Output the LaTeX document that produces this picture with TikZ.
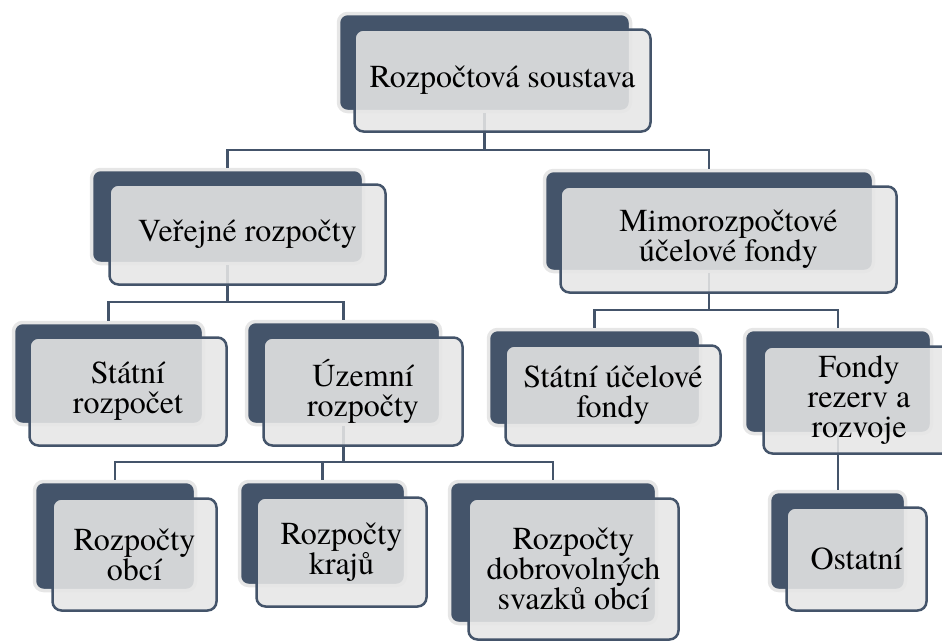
\documentclass[tikz,border=0pt]{standalone}
\usepackage{fontspec}
\setmainfont{texgyretermes}[Extension=.otf, UprightFont=*-regular,
  BoldFont=*-bold, ItalicFont=*-italic, BoldItalicFont=*-bolditalic]
\usepackage{tikz}
\usetikzlibrary{positioning}

\definecolor{slate}{RGB}{68,84,106}
\definecolor{paleedge}{RGB}{230,230,230}
\definecolor{palefill}{RGB}{230,230,230}

\tikzset{
  backbox/.style = {draw=paleedge, line width=3.5, fill=slate,
    rounded corners=9, inner sep=0},
  frontbox/.style = {draw=slate, line width=2.5, fill=palefill,
    fill opacity=0.88, text opacity=1, rounded corners=9, inner sep=0,
    align=center, font=\fontsize{32}{30}\selectfont},
  link/.style = {draw=slate, line width=2.5}
}

\begin{document}
\begin{tikzpicture}[x=1pt, y=-1pt]
  \useasboundingbox (0,0) rectangle (942,641);

  % back plates
  \node[backbox, minimum width=292, minimum height=98] (Ab) at (484.5, 62.5) {};
  \node[backbox, minimum width=272, minimum height=94] (Bb) at (227.5, 216.5) {};
  \node[backbox, minimum width=329, minimum height=101] (Cb) at (709, 221) {};
  \node[backbox, minimum width=190, minimum height=102] (Db) at (108.5, 373.5) {};
  \node[backbox, minimum width=194, minimum height=103] (Eb) at (343.5, 373) {};
  \node[backbox, minimum width=212, minimum height=96] (Ib) at (594.5, 377.5) {};
  \node[backbox, minimum width=187, minimum height=104] (Jb) at (838, 381.5) {};
  \node[backbox, minimum width=161, minimum height=109] (Fb) at (115, 536) {};
  \node[backbox, minimum width=166, minimum height=104] (Gb) at (322.5, 533.5) {};
  \node[backbox, minimum width=207, minimum height=142] (Hb) at (553, 552.5) {};
  \node[backbox, minimum width=136, minimum height=99] (Kb) at (837.5, 541) {};

  % junctions
  \coordinate (Aj) at (484.5, 150);
  \coordinate (Bj) at (227.5, 302);
  \coordinate (Cj) at (709, 310);
  \coordinate (Ej) at (343.5, 462);

  % connectors
  \draw[link] (Ab.south) -- (Aj) -| (Bb.north);
  \draw[link] (Aj) -| (Cb.north);
  \draw[link] (Bb.south) -- (Bj) -| (Db.north);
  \draw[link] (Bj) -| (Eb.north);
  \draw[link] (Cb.south) -- (Cj) -| (Ib.north);
  \draw[link] (Cj) -| (Jb.north);
  \draw[link] (Eb.south) -- (Ej) -| (Fb.north);
  \draw[link] (Ej) -| (Gb.north);
  \draw[link] (Ej) -| (Hb.north);
  \draw[link] (Jb.south) -- (Jb.south |- Kb.north);

  % front plates
  \node[frontbox, minimum width=296, minimum height=102] (A) at (502.5, 80.5)
    {Rozpočtová soustava};
  \node[frontbox, minimum width=276, minimum height=100] (B) at (247.5, 234.5)
    {Veřejné rozpočty};
  \node[frontbox, minimum width=336, minimum height=106] (C) at (728.5, 239.5)
    {Mimorozpočtové\\účelové fondy};
  \node[frontbox, minimum width=197, minimum height=108] (D) at (128, 391.5)
    {Státní\\rozpočet};
  \node[frontbox, minimum width=199, minimum height=108] (E) at (363, 391.5)
    {Územní\\rozpočty};
  \node[frontbox, minimum width=215, minimum height=100] (I) at (613, 395.5)
    {Státní účelové\\fondy};
  \node[frontbox, minimum width=191, minimum height=107] (J) at (859, 400)
    {Fondy\\rezerv a\\rozvoje};
  \node[frontbox, minimum width=164, minimum height=112] (F) at (134.5, 554.5)
    {Rozpočty\\obcí};
  \node[frontbox, minimum width=170, minimum height=109] (G) at (341.5, 552)
    {Rozpočty\\krajů};
  \node[frontbox, minimum width=210, minimum height=141] (H) at (573.5, 569)
    {Rozpočty\\dobrovolných\\svazků obcí};
  \node[frontbox, minimum width=140, minimum height=103] (K) at (856.5, 559)
    {Ostatní};
\end{tikzpicture}
\end{document}
